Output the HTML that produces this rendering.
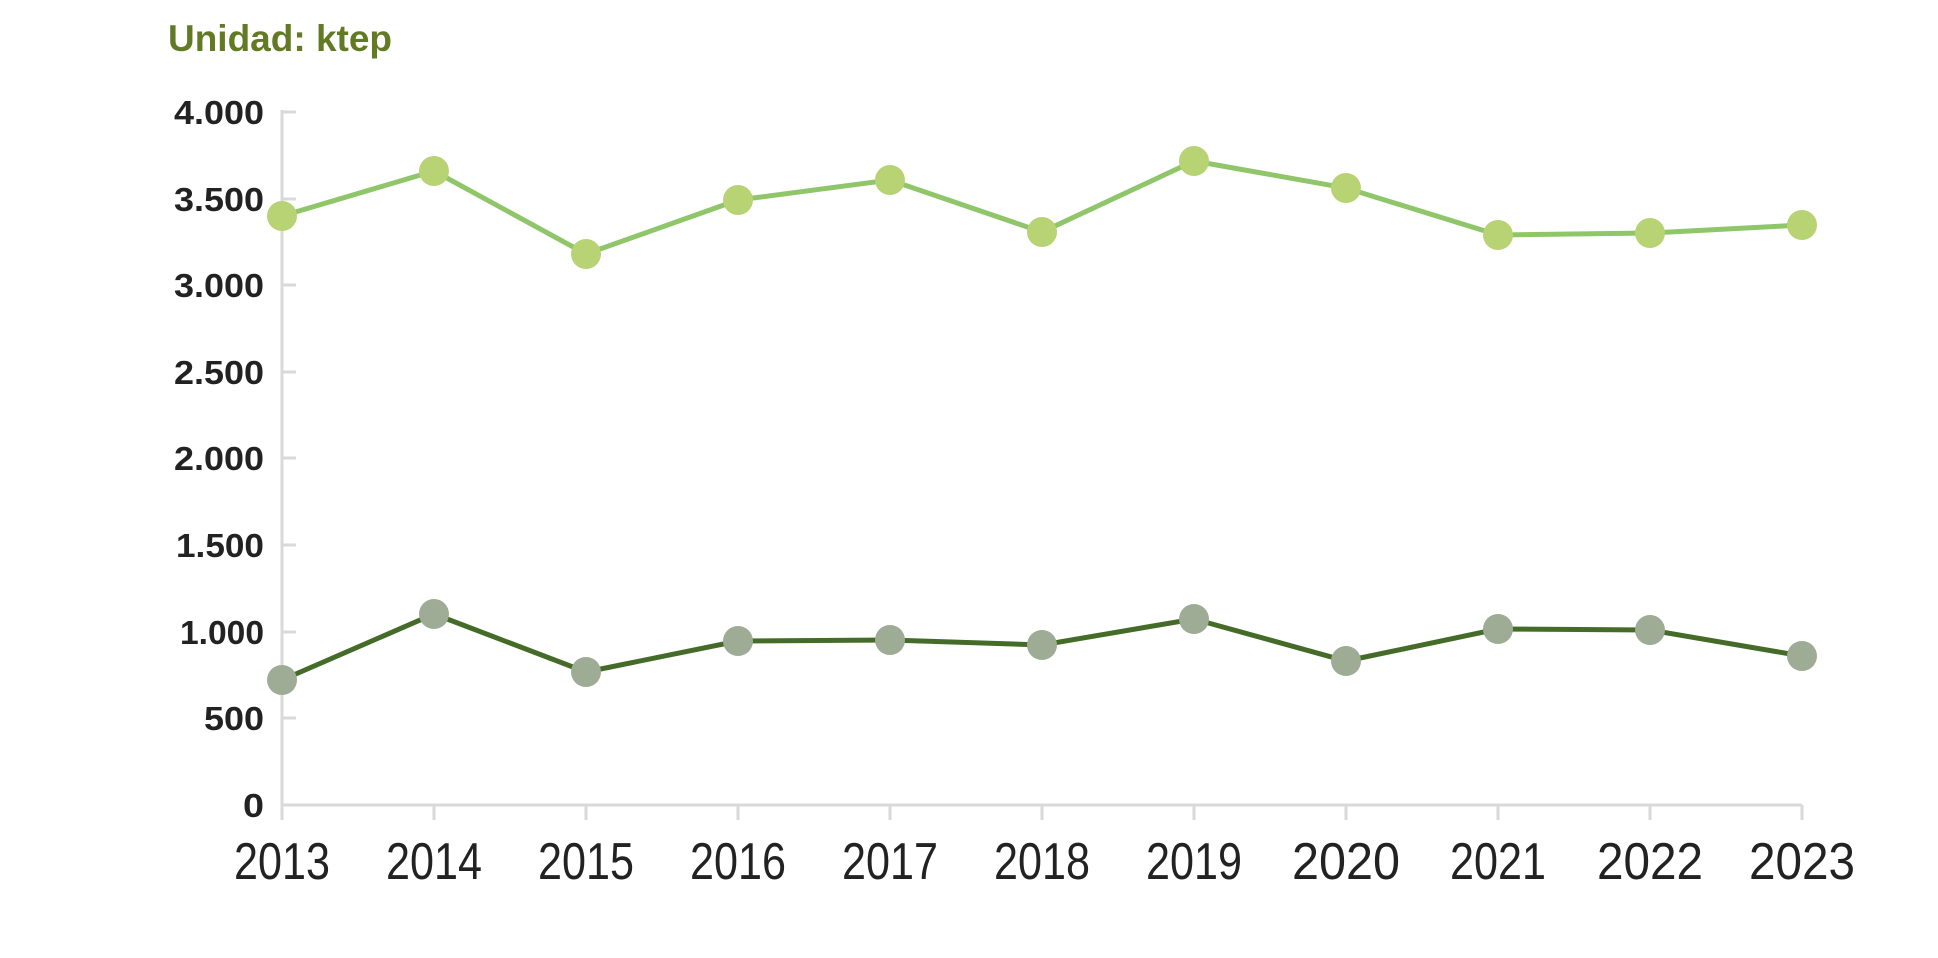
<!DOCTYPE html>
<html><head><meta charset="utf-8"><style>
html,body{margin:0;padding:0;background:#fff;}
svg{display:block;}
</style></head><body>
<svg width="1938" height="958" xmlns="http://www.w3.org/2000/svg" font-family="Liberation Sans, sans-serif">
<text x="168" y="51" font-size="37" font-weight="bold" fill="#637a25" textLength="224" lengthAdjust="spacingAndGlyphs">Unidad: ktep</text>
<g stroke="#d9d9d9" stroke-width="3" fill="none">
<line x1="282" y1="110" x2="282" y2="820"/>
<line x1="282" y1="805" x2="1802" y2="805"/>
<line x1="282" y1="112" x2="296" y2="112"/>
<line x1="282" y1="199" x2="296" y2="199"/>
<line x1="282" y1="285" x2="296" y2="285"/>
<line x1="282" y1="372" x2="296" y2="372"/>
<line x1="282" y1="458" x2="296" y2="458"/>
<line x1="282" y1="545" x2="296" y2="545"/>
<line x1="282" y1="632" x2="296" y2="632"/>
<line x1="282" y1="718" x2="296" y2="718"/>
<line x1="434" y1="805" x2="434" y2="820"/>
<line x1="586" y1="805" x2="586" y2="820"/>
<line x1="738" y1="805" x2="738" y2="820"/>
<line x1="890" y1="805" x2="890" y2="820"/>
<line x1="1042" y1="805" x2="1042" y2="820"/>
<line x1="1194" y1="805" x2="1194" y2="820"/>
<line x1="1346" y1="805" x2="1346" y2="820"/>
<line x1="1498" y1="805" x2="1498" y2="820"/>
<line x1="1650" y1="805" x2="1650" y2="820"/>
<line x1="1802" y1="805" x2="1802" y2="820"/>
</g>
<g font-size="33" font-weight="bold" fill="#222" text-anchor="end">
<text x="264" y="124" textLength="90" lengthAdjust="spacingAndGlyphs">4.000</text>
<text x="264" y="211" textLength="90" lengthAdjust="spacingAndGlyphs">3.500</text>
<text x="264" y="297" textLength="90" lengthAdjust="spacingAndGlyphs">3.000</text>
<text x="264" y="384" textLength="90" lengthAdjust="spacingAndGlyphs">2.500</text>
<text x="264" y="470" textLength="90" lengthAdjust="spacingAndGlyphs">2.000</text>
<text x="264" y="557" textLength="88" lengthAdjust="spacingAndGlyphs">1.500</text>
<text x="264" y="644" textLength="84" lengthAdjust="spacingAndGlyphs">1.000</text>
<text x="264" y="730" textLength="60" lengthAdjust="spacingAndGlyphs">500</text>
<text x="264" y="817" textLength="21" lengthAdjust="spacingAndGlyphs">0</text>
</g>
<g font-size="52" fill="#222" text-anchor="middle">
<text x="282" y="879" textLength="96" lengthAdjust="spacingAndGlyphs">2013</text>
<text x="434" y="879" textLength="96" lengthAdjust="spacingAndGlyphs">2014</text>
<text x="586" y="879" textLength="96" lengthAdjust="spacingAndGlyphs">2015</text>
<text x="738" y="879" textLength="96" lengthAdjust="spacingAndGlyphs">2016</text>
<text x="890" y="879" textLength="96" lengthAdjust="spacingAndGlyphs">2017</text>
<text x="1042" y="879" textLength="96" lengthAdjust="spacingAndGlyphs">2018</text>
<text x="1194" y="879" textLength="96" lengthAdjust="spacingAndGlyphs">2019</text>
<text x="1346" y="879" textLength="108" lengthAdjust="spacingAndGlyphs">2020</text>
<text x="1498" y="879" textLength="96" lengthAdjust="spacingAndGlyphs">2021</text>
<text x="1650" y="879" textLength="106" lengthAdjust="spacingAndGlyphs">2022</text>
<text x="1802" y="879" textLength="106" lengthAdjust="spacingAndGlyphs">2023</text>
</g>
<polyline fill="none" stroke="#8fc66a" stroke-width="5" points="282,216 434,171 586,254 738,200 890,180 1042,232 1194,161 1346,188 1498,235 1650,233 1802,225"/>
<g fill="#b8d373">
<circle cx="282" cy="216" r="15"/><circle cx="434" cy="171" r="15"/><circle cx="586" cy="254" r="15"/>
<circle cx="738" cy="200" r="15"/><circle cx="890" cy="180" r="15"/><circle cx="1042" cy="232" r="15"/>
<circle cx="1194" cy="161" r="15"/><circle cx="1346" cy="188" r="15"/><circle cx="1498" cy="235" r="15"/>
<circle cx="1650" cy="233" r="15"/><circle cx="1802" cy="225" r="15"/>
</g>
<polyline fill="none" stroke="#456b28" stroke-width="5" points="282,680 434,614 586,672 738,641 890,640 1042,645 1194,619 1346,661 1498,629 1650,630 1802,656"/>
<g fill="#9eac96">
<circle cx="282" cy="680" r="15"/><circle cx="434" cy="614" r="15"/><circle cx="586" cy="672" r="15"/>
<circle cx="738" cy="641" r="15"/><circle cx="890" cy="640" r="15"/><circle cx="1042" cy="645" r="15"/>
<circle cx="1194" cy="619" r="15"/><circle cx="1346" cy="661" r="15"/><circle cx="1498" cy="629" r="15"/>
<circle cx="1650" cy="630" r="15"/><circle cx="1802" cy="656" r="15"/>
</g>
</svg>
</body></html>
